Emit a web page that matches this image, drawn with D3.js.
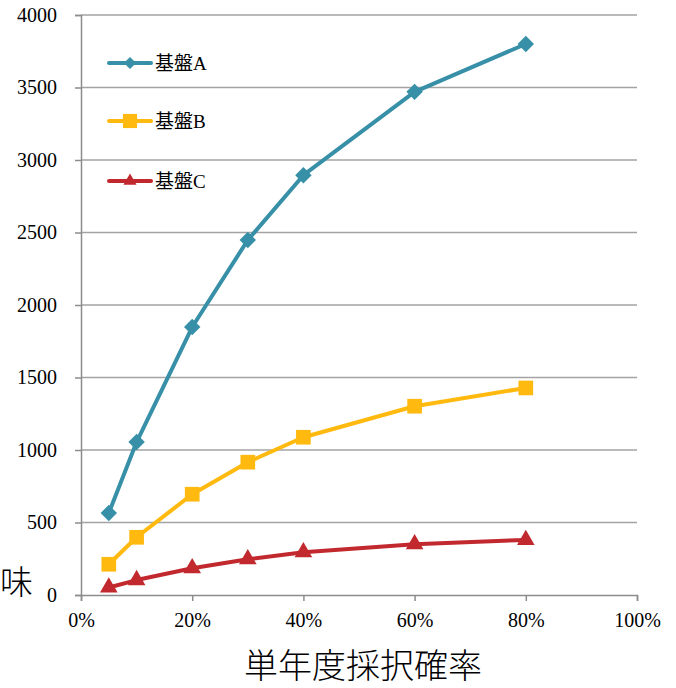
<!DOCTYPE html>
<html>
<head>
<meta charset="utf-8">
<script src="https://cdn.jsdelivr.net/npm/d3@7"></script>
<style>
  html, body { margin: 0; padding: 0; background: #fff; }
  svg { display: block; }
</style>
</head>
<body>
<svg id="chart" width="676" height="688"></svg>
<script>
// 採択確率 (x) and the three series
const rates = [0.05, 0.10, 0.20, 0.30, 0.40, 0.60, 0.80];
const seriesNames = ["基盤A", "基盤B", "基盤C"];
const valuesA = [565, 1055, 1848, 2448, 2895, 3470, 3800];
const valuesB = [212, 398, 695, 916, 1088, 1302, 1428];
const valuesC = [52, 103, 185, 247, 295, 350, 380];
const yTicks = [0, 500, 1000, 1500, 2000, 2500, 3000, 3500, 4000];
const xTicks = [0, 0.2, 0.4, 0.6, 0.8, 1.0];
const xTitle = "単年度採択確率";
const yTitleTail = "味";

// pick the first serif face that is really installed (measured against monospace)
function installed(family) {
  const ctx = document.createElement("canvas").getContext("2d");
  const probe = "4000% 基盤ABC";
  ctx.font = "40px monospace";
  const base = ctx.measureText(probe).width;
  ctx.font = `40px "${family}", monospace`;
  return ctx.measureText(probe).width !== base;
}
const serifFace = ["Liberation Serif", "Times New Roman", "Tinos", "DejaVu Serif", "Noto Serif"]
  .find(installed) || "serif";
const serif = `"${serifFace}", "Noto Sans CJK JP", serif`;
const cjk = '"Noto Sans CJK JP", "Noto Sans CJK SC", sans-serif';

const colors = ["#3790A7", "#FFB90F", "#C2292E"];
const symbols = [d3.symbolSquare, d3.symbolSquare, d3.symbolTriangle];
const symbolSizes = [135, 215, 135];
const legendSizes = [75, 200, 75];
const symbolRotate = [45, 0, 0];

const svg = d3.select("#chart");
const x = d3.scaleLinear().domain([0, 1]).range([81, 637]);
const y = d3.scaleLinear().domain([0, 4000]).range([595, 15]);

// horizontal gridlines
svg.append("g")
  .selectAll("line")
  .data(yTicks.filter(d => d > 0))
  .join("line")
  .attr("x1", x(0)).attr("x2", x(1))
  .attr("y1", d => y(d)).attr("y2", d => y(d))
  .attr("stroke", "#a3a3a3").attr("stroke-width", 1.3);

// y axis
const yAxis = svg.append("g")
  .attr("transform", `translate(${x(0)},0)`)
  .call(d3.axisLeft(y).tickValues(yTicks).tickSize(6).tickPadding(18).tickFormat(d3.format("d")));
yAxis.select(".domain").attr("stroke", "#8c8c8c").attr("stroke-width", 1.5);
yAxis.selectAll(".tick line").attr("stroke", "#8c8c8c").attr("stroke-width", 1.5);
yAxis.selectAll(".tick text")
  .style("font-family", serif).style("font-size", "20px")
  .attr("fill", "#000").attr("dy", "0.32em");

// x axis
const xAxis = svg.append("g")
  .attr("transform", `translate(0,${y(0)})`)
  .call(d3.axisBottom(x).tickValues(xTicks).tickSize(6).tickPadding(12).tickFormat(d3.format(".0%")));
xAxis.select(".domain").attr("stroke", "#8c8c8c").attr("stroke-width", 1.5);
xAxis.selectAll(".tick line").attr("stroke", "#8c8c8c").attr("stroke-width", 1.5);
xAxis.selectAll(".tick text")
  .style("font-family", serif).style("font-size", "20px")
  .attr("fill", "#000");

// series lines and markers
const allSeries = [valuesA, valuesB, valuesC];
const line = d3.line().x((d, i) => x(rates[i])).y(d => y(d));

allSeries.forEach((vals, k) => {
  const g = svg.append("g");
  g.append("path")
    .datum(vals)
    .attr("d", line)
    .attr("fill", "none")
    .attr("stroke", colors[k])
    .attr("stroke-width", 4)
    .attr("stroke-linejoin", "round");
  g.selectAll("path.mk")
    .data(vals)
    .join("path")
    .attr("class", "mk")
    .attr("transform", (d, i) => `translate(${x(rates[i])},${y(d)}) rotate(${symbolRotate[k]})`)
    .attr("d", d3.symbol().type(symbols[k]).size(symbolSizes[k]))
    .attr("fill", colors[k]);
});

// legend
const legendY = [63, 121, 181];
seriesNames.forEach((name, k) => {
  const g = svg.append("g").attr("transform", `translate(109,${legendY[k]})`);
  g.append("line").attr("x1", 0).attr("x2", 42).attr("y1", 0).attr("y2", 0)
    .attr("stroke", colors[k]).attr("stroke-width", 4).attr("stroke-linecap", "round");
  g.append("path")
    .attr("transform", `translate(21,0) rotate(${symbolRotate[k]})`)
    .attr("d", d3.symbol().type(symbols[k]).size(legendSizes[k]))
    .attr("fill", colors[k]);
  g.append("text").attr("x", 46).attr("y", 7)
    .style("font-family", serif).style("font-size", "19px")
    .text(name);
});

// axis titles
svg.append("text")
  .attr("x", 363).attr("y", 678)
  .attr("text-anchor", "middle")
  .style("font-family", cjk).style("font-size", "34px").style("font-weight", 300)
  .text(xTitle);

svg.append("text")
  .attr("x", 0).attr("y", 594)
  .style("font-family", cjk).style("font-size", "33px").style("font-weight", 300)
  .text(yTitleTail);
</script>
</body>
</html>
